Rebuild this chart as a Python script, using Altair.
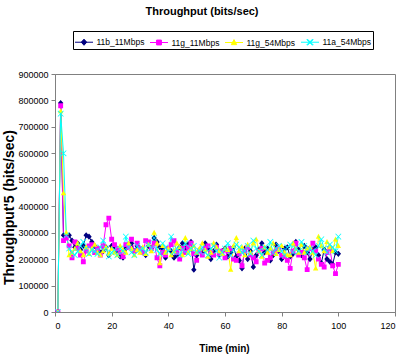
import altair as alt
import pandas as pd

series_names = ["11b_11Mbps", "11g_11Mbps", "11g_54Mbps", "11a_54Mbps"]
series_colors = ["#000080", "#FF00FF", "#FFFF00", "#00FFFF"]

tput_11b_11 = [
    0, 790000, 290000, 285000, 290000, 270000, 245000, 260000, 235000, 250000,
    290000, 285000, 265000, 250000, 240000, 225000, 230000, 245000, 215000, 250000,
    245000, 230000, 210000, 205000, 240000, 255000, 260000, 230000, 250000, 240000,
    225000, 215000, 250000, 240000, 280000, 265000, 245000, 240000, 205000, 240000,
    230000, 205000, 215000, 245000, 260000, 240000, 255000, 265000, 160000, 215000,
    235000, 225000, 260000, 240000, 200000, 230000, 255000, 215000, 230000, 240000,
    210000, 225000, 245000, 210000, 195000, 165000, 240000, 200000, 230000, 170000,
    215000, 235000, 260000, 225000, 240000, 195000, 215000, 255000, 230000, 200000,
    240000, 245000, 210000, 220000, 265000, 235000, 215000, 250000, 225000, 200000,
    235000, 245000, 215000, 185000, 235000, 200000, 190000, 180000, 225000, 220000,
]
tput_11g_11 = [
    0, 780000, 270000, 280000, 250000, 205000, 265000, 240000, 215000, 190000,
    230000, 250000, 255000, 225000, 240000, 215000, 250000, 330000, 355000, 275000,
    255000, 240000, 225000, 210000, 255000, 245000, 275000, 230000, 260000, 240000,
    225000, 270000, 265000, 240000, 260000, 205000, 175000, 225000, 215000, 240000,
    255000, 270000, 225000, 200000, 240000, 225000, 245000, 260000, 220000, 195000,
    230000, 215000, 240000, 250000, 225000, 215000, 245000, 220000, 230000, 205000,
    230000, 240000, 200000, 195000, 220000, 175000, 230000, 245000, 215000, 205000,
    190000, 230000, 240000, 185000, 195000, 205000, 225000, 230000, 240000, 215000,
    210000, 195000, 165000, 230000, 260000, 215000, 225000, 205000, 160000, 240000,
    260000, 230000, 200000, 180000, 170000, 225000, 240000, 175000, 145000, 180000,
]
tput_11g_54 = [
    0, 760000, 450000, 300000, 215000, 225000, 240000, 260000, 230000, 215000,
    245000, 220000, 240000, 255000, 225000, 215000, 230000, 245000, 220000, 240000,
    225000, 215000, 250000, 235000, 225000, 260000, 240000, 215000, 235000, 225000,
    245000, 220000, 255000, 230000, 300000, 260000, 185000, 250000, 225000, 240000,
    215000, 230000, 260000, 245000, 215000, 280000, 225000, 240000, 250000, 225000,
    240000, 260000, 235000, 210000, 225000, 260000, 245000, 230000, 220000, 240000,
    235000, 160000, 250000, 280000, 230000, 245000, 215000, 255000, 225000, 260000,
    275000, 230000, 210000, 245000, 225000, 240000, 260000, 220000, 235000, 250000,
    225000, 215000, 215000, 260000, 240000, 225000, 255000, 225000, 240000, 245000,
    225000, 165000, 285000, 250000, 230000, 265000, 245000, 230000, 275000, 250000,
]
tput_11a_54 = [
    0, 750000, 600000, 290000, 240000, 225000, 215000, 230000, 250000, 265000,
    240000, 220000, 235000, 230000, 220000, 245000, 270000, 240000, 210000, 225000,
    235000, 215000, 240000, 230000, 285000, 245000, 225000, 215000, 250000, 235000,
    240000, 225000, 255000, 240000, 280000, 235000, 220000, 260000, 245000, 230000,
    285000, 225000, 240000, 215000, 235000, 260000, 220000, 240000, 250000, 225000,
    230000, 245000, 225000, 215000, 240000, 250000, 230000, 205000, 225000, 240000,
    260000, 215000, 235000, 255000, 245000, 225000, 230000, 250000, 220000, 270000,
    240000, 230000, 215000, 245000, 235000, 265000, 225000, 240000, 250000, 230000,
    215000, 245000, 255000, 225000, 240000, 230000, 265000, 250000, 225000, 240000,
    230000, 215000, 250000, 275000, 240000, 225000, 255000, 245000, 230000, 285000,
]

all_series = [tput_11b_11, tput_11g_11, tput_11g_54, tput_11a_54]
x_ticks = [0, 20, 40, 60, 80, 100, 120]
y_ticks = [0, 100000, 200000, 300000, 400000, 500000, 600000, 700000, 800000, 900000]

rows = []
for k, (name, vals) in enumerate(zip(series_names, all_series)):
    for i, v in enumerate(vals):
        rows.append({"series": name, "order": k, "time": i + 1, "tput": v})
df = pd.DataFrame(rows)

# each marker path carries a zero-area horizontal segment: invisible when only filled
# (plot markers), drawn as the legend's line when the legend symbol is stroked
seg = "M-1,0H1"
marker_paths = [
    seg + "M0,-0.34L0.3,0L0,0.34L-0.3,0Z",
    seg + "M-0.27,-0.27H0.27V0.27H-0.27Z",
    seg + "M0,-0.32L0.3,0.24L-0.3,0.24Z",
    seg + "M-0.28,-0.34L0.34,0.28L0.28,0.34L-0.34,-0.28Z"
          "M0.28,-0.34L0.34,-0.28L-0.28,0.34L-0.34,0.28Z",
]

font = "Liberation Sans, Arial"

x_enc = alt.X("time:Q", scale=alt.Scale(domain=[0, 120], nice=False),
              axis=alt.Axis(values=x_ticks, title="Time (min)", titleX=169, titleY=39,
                            titleBaseline="alphabetic", titleFontSize=10))
y_enc = alt.Y("tput:Q", scale=alt.Scale(domain=[0, 900000], nice=False),
              axis=alt.Axis(values=y_ticks, format="d", title="Throughput'5 (bits/sec)",
                            titleX=-41.5, titleY=133, titleBaseline="alphabetic",
                            titleFontSize=14))
color_scale = alt.Scale(domain=series_names, range=series_colors)

lines = alt.Chart(df).mark_line(strokeWidth=1, clip=True).encode(
    x=x_enc, y=y_enc,
    color=alt.Color("series:N", scale=color_scale,
                    legend=alt.Legend(
                        title=None, orient="none", legendX=18, legendY=-43,
                        direction="horizontal", strokeColor="#000000", padding=1.5,
                        symbolSize=324, labelOffset=3, columnPadding=3,
                        labelFont=font, labelFontSize=8.5, labelColor="#000000",
                        symbolStrokeWidth=1)),
    detail="series:N",
)

points = alt.Chart(df).mark_point(filled=True, opacity=1, clip=True, size=324).encode(
    x=x_enc, y=y_enc,
    color=alt.Color("series:N", scale=color_scale, legend=None),
    shape=alt.Shape("series:N", scale=alt.Scale(domain=series_names, range=marker_paths),
                    legend=None),
    order="order:Q",
)

chart = alt.layer(lines, points).properties(
    width=340, height=238,
    title=alt.TitleParams("Throughput (bits/sec)", font=font, fontSize=11, fontWeight="bold",
                          anchor="middle", frame="group", offset=14, dx=-23,
                          color="#000000"),
    autosize=alt.AutoSizeParams(type="none"),
    padding={"left": 55, "top": 74, "right": 9, "bottom": 46},
).configure_view(
    stroke="#808080", strokeWidth=1,
).configure_axis(
    grid=False, domainColor="#808080", tickColor="#808080", tickSize=4,
    labelFont=font, labelFontSize=9, labelColor="#000000",
    titleFont=font, titleFontWeight="bold", titleColor="#000000",
).configure_axisX(labelPadding=5).configure_axisY(labelPadding=3)

chart.save("out.html", embed_options={"renderer": "svg", "actions": False})
